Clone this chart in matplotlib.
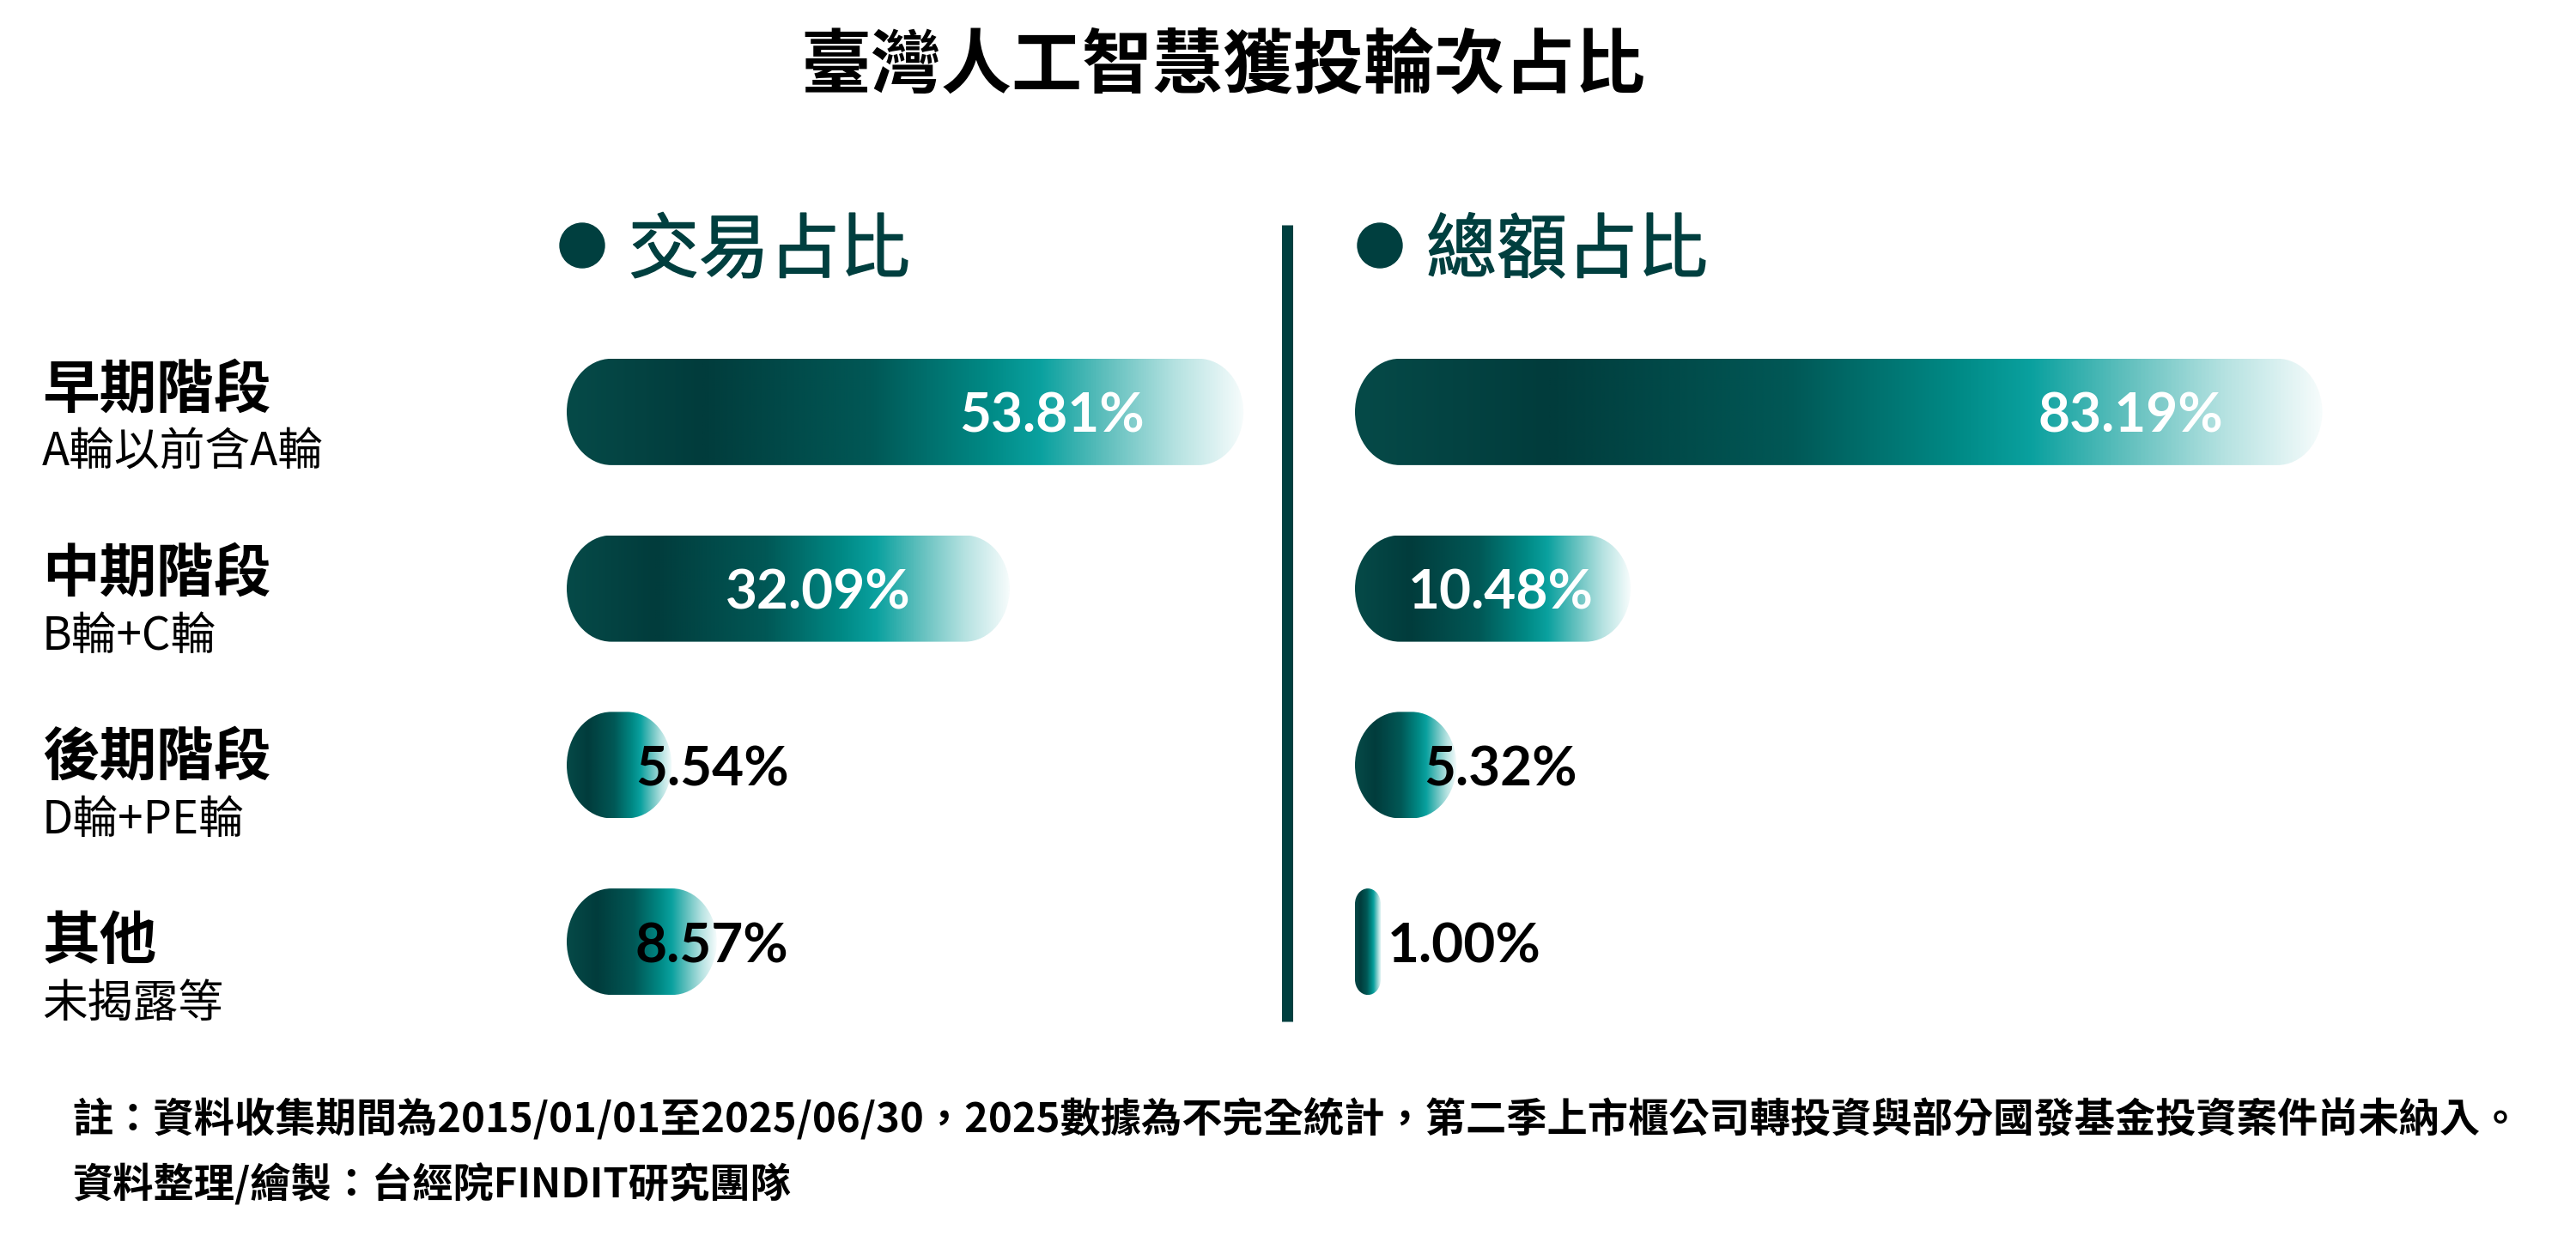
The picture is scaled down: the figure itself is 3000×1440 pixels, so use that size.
import numpy as np
import matplotlib
matplotlib.use("Agg")
import matplotlib.pyplot as plt
import matplotlib.patheffects as pe
from matplotlib.path import Path
from matplotlib.patches import PathPatch, Circle
from matplotlib.colors import LinearSegmentedColormap

# data
title = "臺灣人工智慧獲投輪次占比"
panel_titles = ["交易占比", "總額占比"]
stages = ["早期階段", "中期階段", "後期階段", "其他"]
stage_notes = ["A輪以前含A輪", "B輪+C輪", "D輪+PE輪", "未揭露等"]
deal_share = [53.81, 32.09, 5.54, 8.57]
amount_share = [83.19, 10.48, 5.32, 1.00]
footnotes = [
    "註：資料收集期間為2015/01/01至2025/06/30，2025數據為不完全統計，第二季上市櫃公司轉投資與部分國發基金投資案件尚未納入。",
    "資料整理/繪製：台經院FINDIT研究團隊",
]

CJK = ["Noto Sans CJK TC", "DejaVu Sans"]
TEAL = "#003f3f"
W, H = 3000, 1440
P = 0.82          # bar length scale exponent
BAR_H = 124       # px

grad_cmap = LinearSegmentedColormap.from_list("bar", [
    (0.0, "#064a48"), (0.2, "#013c3c"), (0.45, "#015856"), (0.62, "#008985"),
    (0.70, "#0aa19f"), (0.80, "#62c0be"), (0.9, "#b5e2e1"), (1.0, "#f6fcfc")])

fig = plt.figure(figsize=(W / 100, H / 100), dpi=100)
canvas = fig.add_axes([0, 0, 1, 1])
canvas.set_xlim(0, W)
canvas.set_ylim(H, 0)
canvas.axis("off")


def panel_axes(left_px):
    ax = fig.add_axes([left_px / W, 1 - 1200 / H, 1310 / W, 823 / H])
    ax.set_xscale("function", functions=(lambda x: np.abs(x) ** P,
                                         lambda x: np.abs(x) ** (1 / P)))
    ax.set_xlim(0, 100)
    ax.set_ylim(len(stages) - 0.5, -0.5)
    ax.axis("off")
    return ax


def to_canvas(ax, x, y):
    disp = ax.transData.transform((x, y))
    return canvas.transData.inverted().transform(disp)


def rounded_bar(x0, x1, y0, y1, rx, ry):
    verts = [(x0 + rx, y0)]
    codes = [Path.MOVETO]
    for cx, cy, t1, t2 in [(x1 - rx, y0 + ry, -90, 0), (x1 - rx, y1 - ry, 0, 90),
                           (x0 + rx, y1 - ry, 90, 180), (x0 + rx, y0 + ry, 180, 270)]:
        arc = Path.arc(t1, t2)
        v = arc.vertices * [rx, ry] + [cx, cy]
        verts.append(tuple(v[0]))
        codes.append(Path.LINETO)
        verts.extend([tuple(p) for p in v[1:]])
        codes.extend(arc.codes[1:])
    verts.append((x0 + rx, y0))
    codes.append(Path.CLOSEPOLY)
    return Path(verts, codes)


renderer = fig.canvas.get_renderer()


def draw_panel(ax, values):
    for i, v in enumerate(values):
        x0, yc = to_canvas(ax, 0, i)
        x1, _ = to_canvas(ax, v, i)
        label = f"{v:.2f}%"

        if v >= 10:
            t = canvas.text(0, yc + 24, label, color="white", fontsize=46,
                            family="Lato", weight="bold", ha="left",
                            va="baseline", zorder=3)
            tw = t.get_window_extent(renderer).width
            # bar grows so the label always fits inside
            x1 = max(x1, x0 + tw + 105)
            t.set_x(max(x1 - 115 - tw, x0 + 62))
        else:
            canvas.text(min(x0 + 80, x1 + 8), yc + 24, label, color="black",
                        fontsize=46, family="Lato", weight="bold", ha="left",
                        va="baseline", zorder=3)

        w = x1 - x0
        rx = min(52, w / 2)
        ry = min(BAR_H / 2, rx * 1.2)
        y0, y1 = yc - BAR_H / 2, yc + BAR_H / 2
        patch = PathPatch(rounded_bar(x0, x1, y0, y1, rx, ry),
                          facecolor="none", edgecolor="none")
        canvas.add_patch(patch)
        im = canvas.imshow(np.linspace(0, 1, 512).reshape(1, -1), cmap=grad_cmap,
                           extent=(x0, x1, y1, y0), aspect="auto",
                           interpolation="bilinear", zorder=2)
        im.set_clip_path(patch)


ax_deal = panel_axes(660)
ax_amount = panel_axes(1578)
draw_panel(ax_deal, deal_share)
draw_panel(ax_amount, amount_share)

# title
canvas.text(1424, 102, title, fontsize=59, family=CJK, weight="bold",
            ha="center", va="baseline")

# panel headers
for x_dot, name in zip([678, 1607], panel_titles):
    canvas.add_patch(Circle((x_dot, 286), 26, color=TEAL))
    canvas.text(x_dot + 54, 317, name, fontsize=59, family=CJK,
                color=TEAL, ha="left", va="baseline",
                path_effects=[pe.withStroke(linewidth=1.1, foreground=TEAL)])

# divider
canvas.plot([1499, 1499], [262, 1190], color=TEAL, lw=9.4, solid_capstyle="butt")

# row labels
for i, (name, note) in enumerate(zip(stages, stage_notes)):
    base = 475 + i * 214
    canvas.text(49, base, name, fontsize=48, family=CJK, weight="bold",
                ha="left", va="baseline")
    canvas.text(49, base + 68, note, fontsize=38, family=CJK,
                ha="left", va="baseline")

# footnotes
canvas.text(84, 1319, footnotes[0], fontsize=34, family=CJK, weight="bold",
            ha="left", va="baseline")
canvas.text(84, 1395, footnotes[1], fontsize=34, family=CJK, weight="bold",
            ha="left", va="baseline")

fig.savefig("out.png", dpi=100, facecolor="white")
